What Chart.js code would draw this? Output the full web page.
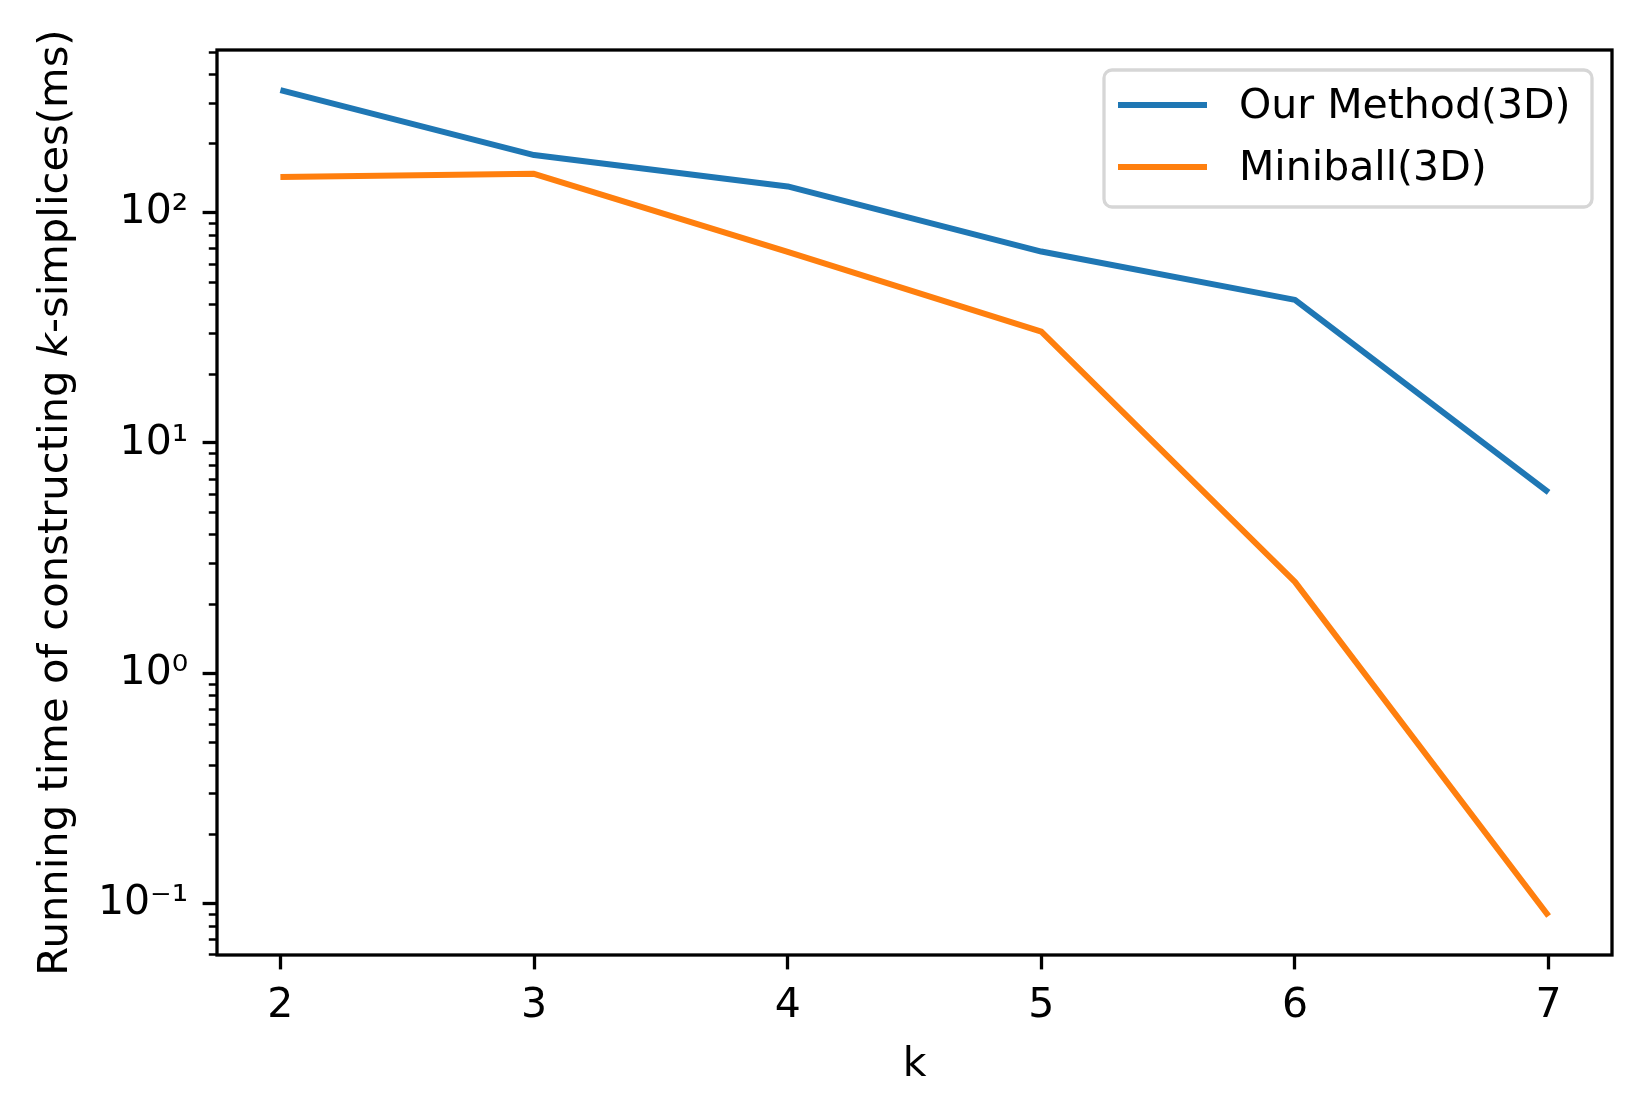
<!DOCTYPE html>
<html>
<head>
<meta charset="utf-8">
<script src="https://cdn.jsdelivr.net/npm/chart.js@4/dist/chart.umd.min.js"></script>
<style>
  html, body { margin: 0; padding: 0; background: #ffffff; }
  #wrap { width: 1642px; height: 1115px; }
</style>
</head>
<body>
<div id="wrap"><canvas id="c" width="1642" height="1115"></canvas></div>
<script>
// ---- data ----
const kValues = [2, 3, 4, 5, 6, 7];
const ourMethod3D = [341, 178, 130, 67.8, 41.8, 6.1];
const miniball3D = [143, 147.5, 67.5, 30.4, 2.49, 0.088];
const seriesNames = ['Our Method(3D)', 'Miniball(3D)'];
const xTickValues = [2, 3, 4, 5, 6, 7];
const yTickLabels = { '-1': '10\u207B\u00B9', '0': '10\u2070', '1': '10\u00B9', '2': '10\u00B2' };
const xTitle = 'k';
const yTitleParts = ['Running time of constructing ', 'k', '-simplices(ms)'];

const FONT = "'DejaVu Sans', 'Liberation Sans', sans-serif";
const FS = 41;
const YFS = 41.7;
const SPINE = 3.3;
const MAJOR_LEN = 14.4, MINOR_LEN = 8.2, MAJOR_W = 3.3, MINOR_W = 2.5, PAD = 14.4;

const decorPlugin = {
  id: 'decor',
  afterDraw(chart) {
    const ctx = chart.ctx;
    const a = chart.chartArea;
    const ys = chart.scales.y;
    ctx.save();
    // minor y ticks
    ctx.strokeStyle = '#000';
    ctx.lineWidth = MINOR_W;
    for (let e = -3; e <= 3; e++) {
      for (let m = 2; m <= 9; m++) {
        const v = m * Math.pow(10, e);
        if (v < ys.min || v > ys.max) continue;
        const py = Math.round(ys.getPixelForValue(v)) + 0.5;
        ctx.beginPath();
        ctx.moveTo(a.left - MINOR_LEN, py);
        ctx.lineTo(a.left, py);
        ctx.stroke();
      }
    }
    // frame (spines)
    ctx.lineWidth = SPINE;
    ctx.strokeStyle = '#000';
    ctx.strokeRect(a.left, a.top, a.right - a.left, a.bottom - a.top);

    // axis titles
    ctx.fillStyle = '#000';
    ctx.font = FS + 'px ' + FONT;
    ctx.textAlign = 'center';
    ctx.textBaseline = 'alphabetic';
    ctx.fillText(xTitle, (a.left + a.right) / 2, 1076);

    // y title with italic k
    ctx.save();
    ctx.translate(52 + 0.36 * YFS, (a.top + a.bottom) / 2);
    ctx.rotate(-Math.PI / 2);
    const fonts = [YFS + 'px ' + FONT, 'oblique ' + YFS + 'px ' + FONT, YFS + 'px ' + FONT];
    let widths = yTitleParts.map((t, i) => { ctx.font = fonts[i]; return ctx.measureText(t).width; });
    const total = widths.reduce((s, w) => s + w, 0);
    let x = -total / 2;
    ctx.textAlign = 'left';
    yTitleParts.forEach((t, i) => {
      ctx.font = fonts[i];
      ctx.fillText(t, x, 0);
      x += widths[i];
    });
    ctx.restore();

    // legend
    const bx = 1104, by = 70, bw = 488, bh = 137, r = 8;
    ctx.beginPath();
    ctx.moveTo(bx + r, by);
    ctx.arcTo(bx + bw, by, bx + bw, by + bh, r);
    ctx.arcTo(bx + bw, by + bh, bx, by + bh, r);
    ctx.arcTo(bx, by + bh, bx, by, r);
    ctx.arcTo(bx, by, bx + bw, by, r);
    ctx.closePath();
    ctx.fillStyle = 'rgba(255,255,255,0.8)';
    ctx.fill();
    ctx.lineWidth = 3.3;
    ctx.strokeStyle = '#d6d6d6';
    ctx.stroke();
    const rowsY = [105, 167];
    chart.data.datasets.forEach((ds, i) => {
      ctx.strokeStyle = ds.borderColor;
      ctx.lineWidth = ds.borderWidth;
      ctx.lineCap = 'butt';
      ctx.beginPath();
      ctx.moveTo(1118, rowsY[i]);
      ctx.lineTo(1207, rowsY[i]);
      ctx.stroke();
      ctx.fillStyle = '#000';
      ctx.font = FS + 'px ' + FONT;
      ctx.textAlign = 'left';
      ctx.textBaseline = 'middle';
      ctx.fillText(ds.label, 1239, rowsY[i] + 2);
    });
    ctx.restore();
  }
};

new Chart(document.getElementById('c'), {
  type: 'line',
  data: {
    datasets: [
      {
        label: seriesNames[0],
        data: kValues.map((k, i) => ({ x: k, y: ourMethod3D[i] })),
        borderColor: '#1f77b4',
        backgroundColor: '#1f77b4',
        borderWidth: 6,
        pointRadius: 0,
        tension: 0,
        borderCapStyle: 'butt',
        borderJoinStyle: 'round'
      },
      {
        label: seriesNames[1],
        data: kValues.map((k, i) => ({ x: k, y: miniball3D[i] })),
        borderColor: '#ff7f0e',
        backgroundColor: '#ff7f0e',
        borderWidth: 6,
        pointRadius: 0,
        tension: 0,
        borderCapStyle: 'butt',
        borderJoinStyle: 'round'
      }
    ]
  },
  options: {
    responsive: false,
    animation: false,
    devicePixelRatio: 1,
    layout: { padding: { left: 0, top: 50, right: 30, bottom: 0 } },
    plugins: { legend: { display: false }, tooltip: { enabled: false }, title: { display: false } },
    scales: {
      x: {
        type: 'linear',
        min: 1.75,
        max: 7.25,
        afterFit: (s) => { s.height = 160; },
        afterBuildTicks: (s) => { s.ticks = xTickValues.map(v => ({ value: v })); },
        grid: { drawOnChartArea: false, drawTicks: true, tickLength: MAJOR_LEN, tickWidth: MAJOR_W, tickColor: '#000' },
        border: { display: false },
        ticks: {
          padding: PAD - 2,
          color: '#000',
          font: { family: FONT, size: FS },
          autoSkip: false,
          maxRotation: 0,
          callback: (v) => String(v)
        }
      },
      y: {
        type: 'logarithmic',
        min: 0.0596,
        max: 509,
        afterFit: (s) => { s.width = 217; },
        afterBuildTicks: (s) => { s.ticks = Object.keys(yTickLabels).map(e => ({ value: Math.pow(10, Number(e)) })); },
        grid: { drawOnChartArea: false, drawTicks: true, tickLength: MAJOR_LEN, tickWidth: MAJOR_W, tickColor: '#000' },
        border: { display: false },
        ticks: {
          padding: PAD,
          color: '#000',
          font: { family: FONT, size: FS },
          autoSkip: false,
          callback: (v) => {
            const e = Math.round(Math.log10(v));
            return yTickLabels[String(e)];
          }
        }
      }
    }
  },
  plugins: [decorPlugin]
});
</script>
</body>
</html>
